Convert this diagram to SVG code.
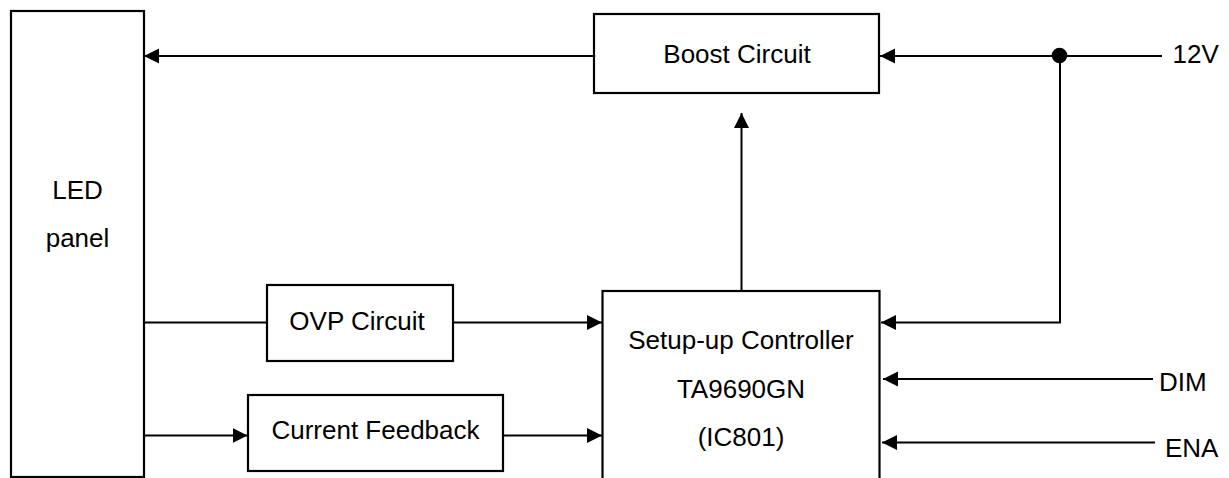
<svg xmlns="http://www.w3.org/2000/svg" width="1229" height="478" viewBox="0 0 1229 478">
<style>
.box{fill:#fff;stroke:#000;stroke-width:2.2}
.wire{fill:none;stroke:#000;stroke-width:2}
.lbl{font-family:"Liberation Sans",Arial,sans-serif;font-size:26px;fill:#000}
.c{text-anchor:middle}
</style>
<defs>
<marker id="ah" markerUnits="userSpaceOnUse" markerWidth="16" markerHeight="16" refX="15" refY="7.5" orient="auto">
<path d="M0,0 L15,7.5 L0,15 z" fill="#000"/>
</marker>
</defs>
<rect width="1229" height="478" fill="#fff"/>
<g id="connectors">
<line class="wire" x1="594" y1="56" x2="144" y2="56" marker-end="url(#ah)"/>
<line class="wire" x1="1162" y1="56" x2="880" y2="56" marker-end="url(#ah)"/>
<polyline class="wire" points="1060,56 1060,322.5 881,322.5" marker-end="url(#ah)"/>
<circle cx="1059.5" cy="55.5" r="7.8" fill="#000"/>
<line class="wire" x1="741.5" y1="291" x2="741.5" y2="113" marker-end="url(#ah)"/>
<line class="wire" x1="144" y1="322.5" x2="267" y2="322.5"/>
<line class="wire" x1="453" y1="322.5" x2="602" y2="322.5" marker-end="url(#ah)"/>
<line class="wire" x1="144" y1="435.5" x2="247.5" y2="435.5" marker-end="url(#ah)"/>
<line class="wire" x1="503" y1="435.5" x2="602" y2="435.5" marker-end="url(#ah)"/>
<line class="wire" x1="1153" y1="379" x2="883" y2="379" marker-end="url(#ah)"/>
<line class="wire" x1="1155" y1="442.5" x2="882" y2="442.5" marker-end="url(#ah)"/>
</g>
<g id="led-panel">
<rect class="box" x="11" y="11" width="133" height="466"/>
<text class="lbl c" x="77.5" y="199">LED</text>
<text class="lbl c" x="77.5" y="247">panel</text>
</g>
<g id="boost-circuit">
<rect class="box" x="594" y="14" width="285" height="79"/>
<text class="lbl c" x="737" y="63">Boost Circuit</text>
</g>
<g id="ovp-circuit">
<rect class="box" x="267" y="285" width="186" height="76"/>
<text class="lbl c" x="357" y="329.5">OVP Circuit</text>
</g>
<g id="current-feedback">
<rect class="box" x="248" y="395" width="255" height="76"/>
<text class="lbl c" x="375.5" y="438.5">Current Feedback</text>
</g>
<g id="controller">
<rect class="box" x="602.5" y="291" width="277" height="200"/>
<text class="lbl c" x="741" y="349">Setup-up Controller</text>
<text class="lbl c" x="741" y="397.5">TA9690GN</text>
<text class="lbl c" x="741" y="446">(IC801)</text>
</g>
<g id="inputs">
<text class="lbl" x="1172.5" y="62.5">12V</text>
<text class="lbl" x="1159" y="390.5">DIM</text>
<text class="lbl" x="1165" y="456.5">ENA</text>
</g>
</svg>
